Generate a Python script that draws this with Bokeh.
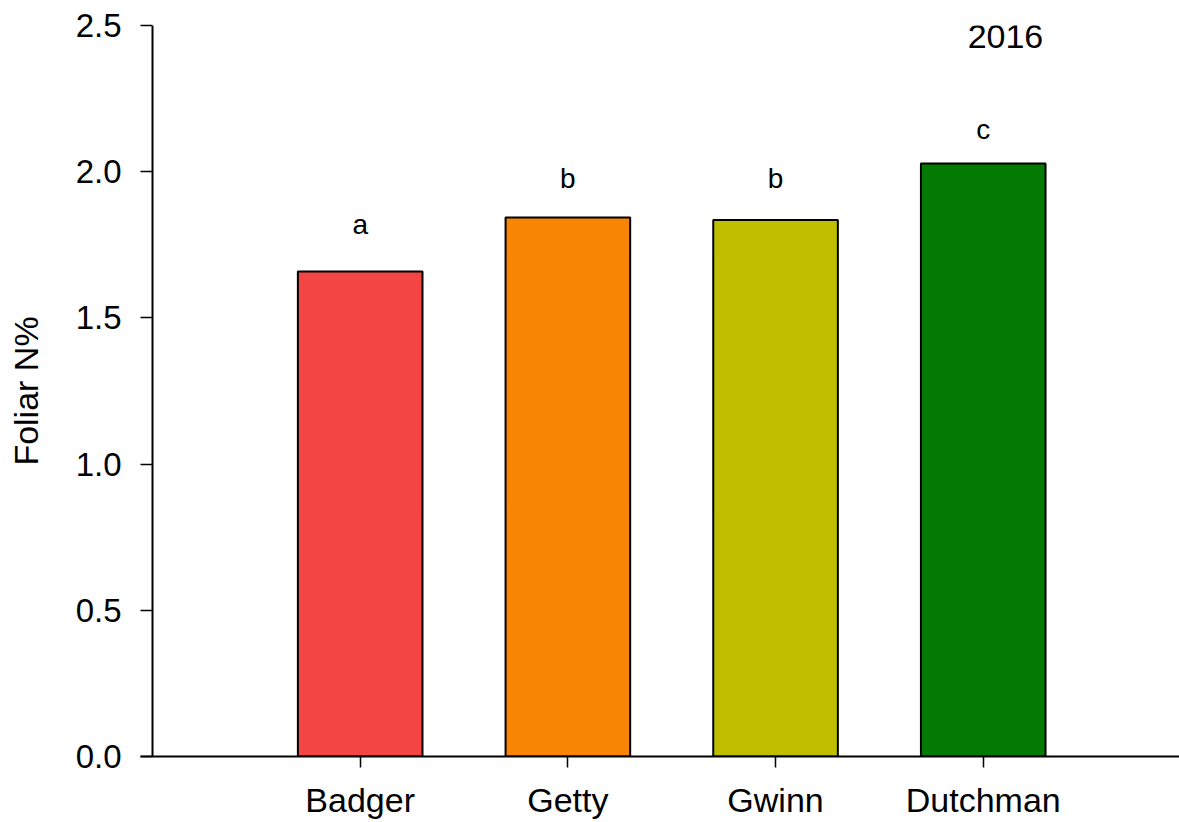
from bokeh.plotting import figure
from bokeh.models import ColumnDataSource, Range1d, FixedTicker, Label, Span
from bokeh.core.properties import value
from bokeh.embed import file_html
from bokeh.resources import INLINE

# Foliar nitrogen by cultivar, 2016
cultivars = ["Badger", "Getty", "Gwinn", "Dutchman"]
foliar_n = [1.659, 1.843, 1.835, 2.028]
letters = ["a", "b", "b", "c"]
letter_y = [1.821, 1.976, 1.976, 2.143]
colors = ["#F44545", "#F88504", "#BFBF00", "#037A03"]
y_ticks = [0.0, 0.5, 1.0, 1.5, 2.0, 2.5]

FONT = "Liberation Sans"
positions = list(range(1, len(cultivars) + 1))

src = ColumnDataSource(dict(x=positions, top=foliar_n, color=colors,
                            letter=letters, ly=letter_y))

# frame starts a little left of x=0 so the baseline runs past the y axis
p = figure(width=1179, height=822, output_backend="svg", toolbar_location=None,
           x_range=Range1d(-0.0578, 4.945), y_range=Range1d(0, 2.5),
           min_border_left=140, min_border_right=0,
           min_border_top=25, min_border_bottom=66)

p.vbar(x="x", top="top", bottom=0, width=0.6, fill_color="color",
       line_color="black", line_width=2, source=src)

p.text(x="x", y="ly", text="letter", source=src, text_align="center",
       text_baseline="alphabetic", text_font=value(FONT),
       text_font_size="28px", text_color="black")

p.add_layout(Label(x=4.107, y=2.462, text="2016", text_align="center",
                   text_baseline="alphabetic", text_font=FONT,
                   text_font_size="34px", text_color="black"))

# vertical axis line at x = 0
p.add_layout(Span(location=0, dimension="height", line_color="black",
                  line_width=2))

p.xgrid.grid_line_color = None
p.ygrid.grid_line_color = None
p.outline_line_color = None
p.background_fill_color = "white"
p.border_fill_color = "white"

xa = p.xaxis[0]
xa.ticker = FixedTicker(ticks=positions)
xa.major_label_overrides = {i: c for i, c in zip(positions, cultivars)}
xa.minor_tick_line_color = None
xa.major_tick_in = 0
xa.major_tick_out = 11
xa.major_tick_line_width = 1.5
xa.axis_line_width = 2
xa.major_label_standoff = 13
xa.major_label_text_font = FONT
xa.major_label_text_font_size = "34px"
xa.major_label_text_color = "black"

ya = p.yaxis[0]
ya.ticker = FixedTicker(ticks=y_ticks)
ya.major_label_overrides = {t: f"{t:.1f}" for t in y_ticks}
ya.minor_tick_line_color = None
ya.axis_line_color = None
ya.major_tick_in = 12
ya.major_tick_out = 0
ya.major_tick_line_width = 1.5
ya.major_label_standoff = 19
ya.major_label_text_font = FONT
ya.major_label_text_font_size = "33px"
ya.major_label_text_color = "black"
ya.axis_label = "Foliar N%"
ya.axis_label_text_font = FONT
ya.axis_label_text_font_size = "34px"
ya.axis_label_text_font_style = "normal"
ya.axis_label_text_color = "black"
ya.axis_label_standoff = 28

open("out.html", "w").write(file_html(p, INLINE))
